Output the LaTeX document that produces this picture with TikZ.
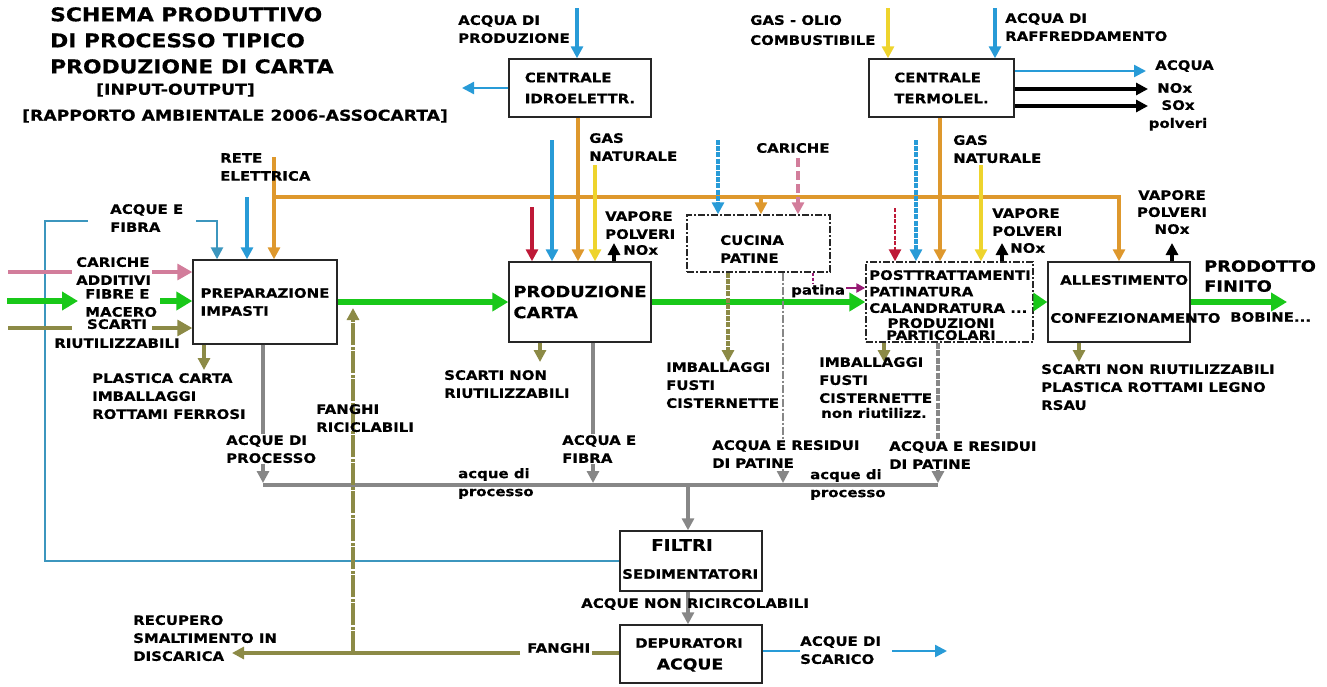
\documentclass[tikz,border=0pt]{standalone}
\usepackage{fontspec}
\setmainfont{DejaVu Sans}[FakeStretch=1.15, BoldFeatures={FakeBold=0.5}]
\usetikzlibrary{arrows.meta}
\definecolor{cblue}{RGB}{40,155,215}
\definecolor{csteel}{RGB}{60,150,190}
\definecolor{corange}{RGB}{222,152,45}
\definecolor{cyellow}{RGB}{238,212,45}
\definecolor{ccrimson}{RGB}{190,25,55}
\definecolor{cpink}{RGB}{210,125,155}
\definecolor{cgreen}{RGB}{25,200,25}
\definecolor{colive}{RGB}{140,138,70}
\definecolor{cgray}{RGB}{135,135,135}
\definecolor{cpurple}{RGB}{150,25,115}
\tikzset{
  box/.style={draw=black!85, line width=1.4pt, fill=white, inner sep=0pt},
  dbox/.style={box, dash pattern=on 7pt off 2pt on 2pt off 2pt},
  lab/.style={inner sep=0pt, align=left, text=black, font=\fontsize{13}{18}\selectfont\bfseries},
  labc/.style={lab, align=center},
  wlab/.style={lab, fill=white, inner sep=1pt},
  bigt/.style={font=\fontsize{15.5}{21}\selectfont\bfseries},
  fl/.style={line width=3.3pt},
  thinl/.style={line width=2.4pt},
  arr/.style={-{Triangle[length=12pt,width=12pt]}},
  barr/.style={-{Triangle[length=15pt,width=16pt]}},
  sarr/.style={-{Triangle[length=9pt,width=9pt]}},
  gline/.style={line width=5.5pt, cgreen},
  garr/.style={-{Triangle[length=16pt,width=18pt]}},
  dsh/.style={dash pattern=on 5pt off 1.2pt},
  dd/.style={dash pattern=on 8pt off 2pt on 2pt off 2pt},
}
\begin{document}
\begin{tikzpicture}[x=1pt,y=-1pt]
\useasboundingbox (0,0) rectangle (1327,686);

% ---------- boxes ----------
\node[box, lab, font=\fontsize{13}{21}\selectfont\bfseries, minimum width=142pt, minimum height=58pt] (idro) at (580,88) {CENTRALE\\IDROELETTR.};
\node[box, lab, font=\fontsize{13}{21}\selectfont\bfseries, minimum width=145pt, minimum height=58pt] (termo) at (941.5,88) {CENTRALE\\TERMOLEL.};
\node[box, lab, minimum width=144pt, minimum height=84pt] (prep) at (265,302) {PREPARAZIONE\\IMPASTI};
\node[box, lab, bigt, minimum width=142pt, minimum height=80pt] (prod) at (580,302) {PRODUZIONE\\CARTA};
\node[dbox, minimum width=143pt, minimum height=57pt] (cuc) at (758.5,243.5) {};
\node[dbox, minimum width=167pt, minimum height=80pt] (post) at (949.5,302) {};
\node[box, minimum width=142pt, minimum height=80pt] (alle) at (1119,302) {};
\node[box, minimum width=142pt, minimum height=60pt] (filt) at (691,561) {};
\node[box, minimum width=142pt, minimum height=58pt] (depur) at (691,654) {};

% box texts
\node[lab, anchor=north west] (cucT) at (720,235) {CUCINA\\PATINE};
\node[lab, anchor=north west, font=\fontsize{13}{16.5}\selectfont\bfseries] (postT) at (869,270) {POSTTRATTAMENTI\\PATINATURA\\CALANDRATURA ...};
\node[labc, anchor=north, font=\fontsize{13}{12}\selectfont\bfseries] (postT2) at (941,318) {PRODUZIONI\\PARTICOLARI};
\node[lab, anchor=west] (alleT1) at (1060,280) {ALLESTIMENTO};
\node[lab, anchor=west] (alleT2) at (1050,318) {CONFEZIONAMENTO};
\node[lab, anchor=west, font=\fontsize{16}{18}\selectfont\bfseries] (filtT1) at (651,545) {FILTRI};
\node[lab, anchor=west] (filtT2) at (622,574) {SEDIMENTATORI};
\node[lab] (depT1) at (689,643) {DEPURATORI};
\node[lab, font=\fontsize{15}{18}\selectfont\bfseries] (depT2) at (690,665) {ACQUE};

% ---------- coordinates ----------
\coordinate (iwTop) at (577,8);
\coordinate (iwOut) at (462,88);
\coordinate (oIP) at (578,200);
\coordinate (tgTop) at (888,8);
\coordinate (twTop) at (995,8);
\coordinate (tA) at (1146,71);
\coordinate (tN) at (1148,89);
\coordinate (tS) at (1148,106);
\coordinate (oTP) at (940,200);
\coordinate (reTop) at (274,157);
\coordinate (oh1) at (274,197);
\coordinate (oh2) at (1119,197);
\coordinate (ohC) at (761,197);
\coordinate (b247) at (247,197);
\coordinate (lbCorner) at (45,221);
\coordinate (lbGap) at (88,221);
\coordinate (lbR1) at (196,221);
\coordinate (lbR2) at (217,221);
\coordinate (pk1) at (8,272);
\coordinate (pk2) at (72,272);
\coordinate (pk3) at (152,272);
\coordinate (g1) at (7,301);
\coordinate (g2) at (78,301);
\coordinate (g3) at (160,301);
\coordinate (ol1) at (8,328);
\coordinate (ol2) at (72,328);
\coordinate (ol3) at (152,328);
\coordinate (poE) at (204,370);
\coordinate (gc1e) at (263,483);
\coordinate (gc1) at (263,485);
\coordinate (gc4) at (938,485);
\coordinate (gcm) at (688,485);
\coordinate (gEnd) at (1287,302);
\coordinate (pc) at (532,207);
\coordinate (pb) at (552,140);
\coordinate (py) at (595,165);
\coordinate (pv) at (614,243);
\coordinate (pol) at (540,362);
\coordinate (pg) at (593,483);
\coordinate (cb) at (718,140);
\coordinate (cp) at (798,158);
\coordinate (col) at (728,362);
\coordinate (cg) at (783,483);
\coordinate (cpu) at (813,283);
\coordinate (cpa) at (846,288);
\coordinate (qc) at (895,208);
\coordinate (qb) at (916,140);
\coordinate (qy) at (981,165);
\coordinate (qv) at (1002,243);
\coordinate (qol) at (884,362);
\coordinate (qg) at (938,483);
\coordinate (av) at (1172,243);
\coordinate (aol) at (1079,362);
\coordinate (fgA) at (592,653);
\coordinate (fgB) at (520,653);
\coordinate (fgC) at (232,653);
\coordinate (frTop) at (353,308);
\coordinate (frBot) at (353,653);
\coordinate (scA) at (800,651);
\coordinate (scB) at (892,651);
\coordinate (scC) at (947,651);

% ---------- connectors ----------
% centrale idroelettrica
\draw[fl, cblue, arr] (iwTop) -- (iwTop |- idro.north);
\draw[thinl, cblue, arr] (idro.west) -- (iwOut);
\draw[fl, corange, arr] (oIP |- idro.south) -- (oIP |- prod.north);
% centrale termoelettrica
\draw[fl, cyellow, arr] (tgTop) -- (tgTop |- termo.north);
\draw[fl, cblue, arr] (twTop) -- (twTop |- termo.north);
\draw[thinl, cblue, arr] (tA -| termo.east) -- (tA);
\draw[fl, black, arr] (tN -| termo.east) -- (tN);
\draw[fl, black, arr] (tS -| termo.east) -- (tS);
\draw[fl, corange, arr] (oTP |- termo.south) -- (oTP |- post.north);
% rete elettrica
\draw[fl, corange, arr] (reTop) -- (reTop |- prep.north);
\draw[fl, corange, arr] (oh1) -- (oh2) -- (oh2 |- alle.north);
\draw[fl, corange, arr] (ohC) -- (ohC |- cuc.north);
% acque
\draw[fl, cblue, arr] (b247) -- (b247 |- prep.north);
\draw[line width=2.6pt, csteel] (filt.west) -| (lbCorner) -- (lbGap);
\draw[line width=2.6pt, csteel, arr] (lbR1) -- (lbR2) -- (lbR2 |- prep.north);
% left inputs
\draw[fl, cpink] (pk1) -- (pk2);
\draw[fl, cpink, barr] (pk3) -- (pk3 -| prep.west);
\draw[gline, garr] (g1) -- (g2);
\draw[gline, garr] (g3) -- (g3 -| prep.west);
\draw[fl, colive] (ol1) -- (ol2);
\draw[fl, colive, barr] (ol3) -- (ol3 -| prep.west);
% preparazione outputs
\draw[fl, colive, arr] (poE |- prep.south) -- (poE);
\draw[fl, cgray, arr] (gc1e |- prep.south) -- (gc1e);
\draw[fl, cgray] (gc1) -- (gc4);
\draw[fl, cgray, arr] (gcm) -- (gcm |- filt.north);
% main green flow
\draw[gline, garr] (prep.east) -- (prep.east -| prod.west);
\draw[gline, garr] (prod.east) -- (prod.east -| post.west);
\draw[gline, -{Triangle[length=14pt,width=18pt]}] (post.east) -- (post.east -| alle.west);
\draw[gline, garr] (alle.east) -- (gEnd);
% produzione carta
\draw[fl, ccrimson, arr] (pc) -- (pc |- prod.north);
\draw[fl, cblue, arr] (pb) -- (pb |- prod.north);
\draw[fl, cyellow, arr] (py) -- (py |- prod.north);
\draw[fl, black, arr] (pv |- prod.north) -- (pv);
\draw[fl, colive, arr] (pol |- prod.south) -- (pol);
\draw[fl, cgray, arr] (pg |- prod.south) -- (pg);
% cucina patine
\draw[fl, cblue, arr, dsh] (cb) -- (cb |- cuc.north);
\draw[fl, cpink, arr, dash pattern=on 9pt off 4pt] (cp) -- (cp |- cuc.north);
\draw[fl, colive, arr, dsh] (col |- cuc.south) -- (col);
\draw[thinl, cgray, arr, dd] (cg |- cuc.south) -- (cg);
\draw[line width=2.4pt, cpurple, dash pattern=on 3pt off 2pt] (cpu |- cuc.south) -- (cpu);
\draw[line width=2.4pt, cpurple, sarr] (cpa) -- (cpa -| post.west);
% posttrattamenti
\draw[line width=2.6pt, ccrimson, arr, dash pattern=on 4pt off 1.5pt] (qc) -- (qc |- post.north);
\draw[fl, cblue, arr, dsh] (qb) -- (qb |- post.north);
\draw[fl, cyellow, arr] (qy) -- (qy |- post.north);
\draw[fl, black, arr] (qv |- post.north) -- (qv);
\draw[fl, colive, arr] (qol |- post.south) -- (qol);
\draw[fl, cgray, arr, dash pattern=on 6pt off 1.5pt] (qg |- post.south) -- (qg);
% allestimento
\draw[fl, black, arr] (av |- alle.north) -- (av);
\draw[fl, colive, arr] (aol |- alle.south) -- (aol);
% filtri / depuratori
\draw[fl, cgray, arr] ([xshift=-3pt]filt.south) -- ([xshift=-3pt]depur.north);
\draw[fl, colive] (depur.west |- fgA) -- (fgA);
\draw[fl, colive, arr] (fgB) -- (fgC);
\draw[fl, colive, arr, dash pattern=on 22pt off 1.5pt on 3pt off 1.5pt] (frBot) -- (frTop);
\draw[thinl, cblue] (depur.east |- scA) -- (scA);
\draw[thinl, cblue, arr] (scB) -- (scC);

% ---------- labels ----------
\node[lab, anchor=north west, font=\fontsize{19}{26}\selectfont\bfseries] (tit) at (50,7) {SCHEMA PRODUTTIVO\\DI PROCESSO TIPICO\\PRODUZIONE DI CARTA};
\node[lab, anchor=west, font=\fontsize{15}{18}\selectfont\bfseries] (inout) at (96,90) {[INPUT-OUTPUT]};
\node[lab, anchor=west, font=\fontsize{15}{18}\selectfont\bfseries] (rapp) at (22,116) {[RAPPORTO AMBIENTALE 2006-ASSOCARTA]};

\node[lab, anchor=north west] (acqProd) at (458,15) {ACQUA DI\\PRODUZIONE};
\node[lab, anchor=north west, font=\fontsize{13}{20}\selectfont\bfseries] (gasOlio) at (750,15) {GAS - OLIO\\COMBUSTIBILE};
\node[lab, anchor=north west] (acqRaff) at (1005,13) {ACQUA DI\\RAFFREDDAMENTO};
\node[lab, anchor=west] (outAcq) at (1155,66) {ACQUA};
\node[lab, anchor=west] (outNox) at (1157,88) {NOx};
\node[labc, anchor=north] (outSox) at (1178,100) {SOx\\polveri};
\node[lab, anchor=north west] (gasNat1) at (589,133) {GAS\\NATURALE};
\node[lab, anchor=north west] (gasNat2) at (953,135) {GAS\\NATURALE};
\node[lab, anchor=north west] (rete) at (220,153) {RETE\\ELETTRICA};
\node[lab, anchor=west] (caricheTop) at (756,148) {CARICHE};
\node[lab, anchor=north west] (acqFib) at (110,204) {ACQUE E\\FIBRA};
\node[lab, anchor=north west] (vap1) at (605,211) {VAPORE\\POLVERI};
\node[lab, anchor=west] (nox1) at (623,250) {NOx};
\node[lab, anchor=north west] (vap2) at (992,208) {VAPORE\\POLVERI};
\node[lab, anchor=west] (nox2) at (1010,248) {NOx};
\node[labc, anchor=north, font=\fontsize{13}{17}\selectfont\bfseries] (vap3) at (1172,190) {VAPORE\\POLVERI\\NOx};
\node[lab, anchor=north west] (carAdd) at (76,257) {CARICHE\\ADDITIVI};
\node[lab, anchor=north west] (fibre) at (85,289) {FIBRE E\\MACERO};
\node[labc, anchor=north, font=\fontsize{13}{19}\selectfont\bfseries] (scartiR) at (117,319) {SCARTI\\RIUTILIZZABILI};
\node[lab, anchor=north west] (plastica) at (92,373) {PLASTICA CARTA\\IMBALLAGGI\\ROTTAMI FERROSI};
\node[wlab, anchor=north west] (acqueProc) at (225,434) {ACQUE DI\\PROCESSO};
\node[lab, anchor=north west] (fanghiRic) at (316,404) {FANGHI\\RICICLABILI};
\node[lab, anchor=north west] (scartiNon) at (444,370) {SCARTI NON\\RIUTILIZZABILI};
\node[wlab, anchor=north west] (acquaFib) at (561,434) {ACQUA E\\FIBRA};
\node[lab, anchor=north west] (proc1) at (458,468) {acque di\\processo};
\node[lab, anchor=north west] (imb1) at (666,362) {IMBALLAGGI\\FUSTI\\CISTERNETTE};
\node[wlab, anchor=north west] (resid1) at (711,439) {ACQUA E RESIDUI\\DI PATINE};
\node[lab, anchor=north west] (proc2) at (810,469) {acque di\\processo};
\node[lab, anchor=west] (patina) at (791,291) {patina};
\node[lab, anchor=north west] (imb2) at (819,357) {IMBALLAGGI\\FUSTI\\CISTERNETTE};
\node[lab, anchor=west] (nonRiut) at (821,413) {non riutilizz.};
\node[wlab, anchor=north west] (resid2) at (888,440) {ACQUA E RESIDUI\\DI PATINE};
\node[lab, anchor=north west] (scartiAlle) at (1041,364) {SCARTI NON RIUTILIZZABILI\\PLASTICA ROTTAMI LEGNO\\RSAU};
\node[lab, anchor=north west, font=\fontsize{15.5}{20}\selectfont\bfseries] (prodotto) at (1204,260) {PRODOTTO\\FINITO};
\node[lab, anchor=west] (bobine) at (1230,317) {BOBINE...};
\node[lab, anchor=west] (nonRic) at (581,604) {ACQUE NON RICIRCOLABILI};
\node[lab, anchor=west] (fanghi) at (527,648) {FANGHI};
\node[lab, anchor=north west] (recup) at (133,615) {RECUPERO\\SMALTIMENTO IN\\DISCARICA};
\node[lab, anchor=north west] (scarico) at (800,636) {ACQUE DI\\SCARICO};
\end{tikzpicture}
\end{document}
